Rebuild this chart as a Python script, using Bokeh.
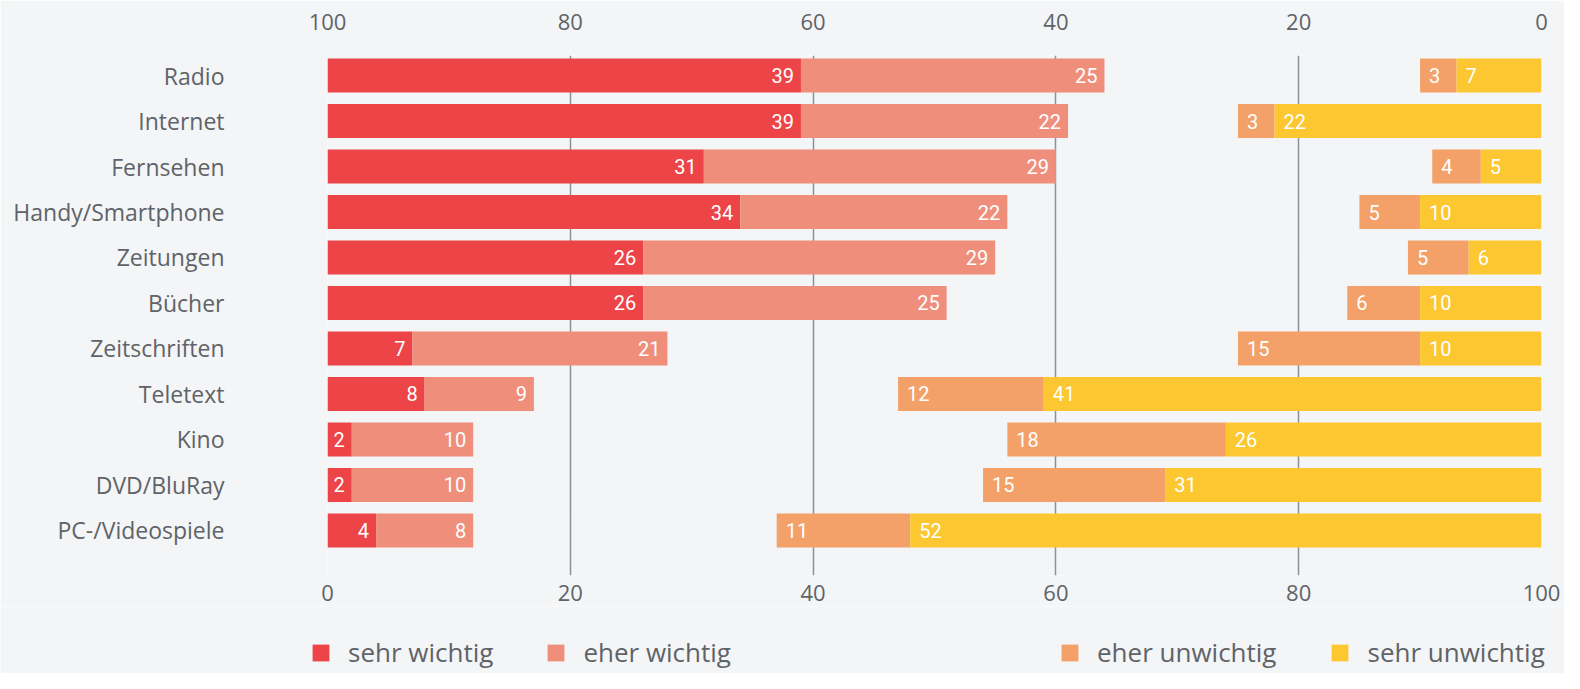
from bokeh.plotting import figure
from bokeh.layouts import column
from bokeh.models import (ColumnDataSource, Range1d, LinearAxis, FixedTicker,
                          Legend, LegendItem)
from bokeh.core.properties import value
from bokeh.embed import file_html
from bokeh.resources import INLINE

# ---- data ----
categories = ["Radio", "Internet", "Fernsehen", "Handy/Smartphone", "Zeitungen",
              "Bücher", "Zeitschriften", "Teletext", "Kino", "DVD/BluRay",
              "PC-/Videospiele"]
sehr_wichtig = [39, 39, 31, 34, 26, 26, 7, 8, 2, 2, 4]
eher_wichtig = [25, 22, 29, 22, 29, 25, 21, 9, 10, 10, 8]
eher_unwichtig = [3, 3, 4, 5, 5, 6, 15, 12, 18, 15, 11]
sehr_unwichtig = [7, 22, 5, 10, 6, 10, 10, 41, 26, 31, 52]
bottom_ticks = [0, 20, 40, 60, 80, 100]
top_tick_labels = ["100", "80", "60", "40", "20", "0"]
series_names = ["sehr wichtig", "eher wichtig", "eher unwichtig", "sehr unwichtig"]

# ---- styling ----
FONT = "Open Sans"
NUM_FONT = "Roboto"
C_SW = "#ec4447"
C_EW = "#f08e7c"
C_EU = "#f3a168"
C_SU = "#fcc731"
BG = "#f3f5f7"
TXT = "#5f6368"

n = len(categories)
ys = list(range(n))

sw_left = [0] * n
sw_right = [a for a in sehr_wichtig]
ew_left = sw_right
ew_right = [a + b for a, b in zip(sehr_wichtig, eher_wichtig)]
su_right = [100] * n
su_left = [100 - d for d in sehr_unwichtig]
eu_right = su_left
eu_left = [100 - c - d for c, d in zip(eher_unwichtig, sehr_unwichtig)]

W, H = 1564, 606
p = figure(width=W, height=H, output_backend="svg", toolbar_location=None,
           x_range=Range1d(0, 100), y_range=Range1d(10.99, -0.44),
           x_axis_location="below",
           min_border_left=327, min_border_right=W - 1541,
           min_border_top=55, min_border_bottom=H - 575)
p.background_fill_color = BG
p.border_fill_color = BG
p.outline_line_color = None

src = ColumnDataSource(dict(
    y=ys,
    sw_l=sw_left, sw_r=sw_right, ew_l=ew_left, ew_r=ew_right,
    eu_l=eu_left, eu_r=eu_right, su_l=su_left, su_r=su_right,
    sw_t=[str(v) for v in sehr_wichtig], ew_t=[str(v) for v in eher_wichtig],
    eu_t=[str(v) for v in eher_unwichtig], su_t=[str(v) for v in sehr_unwichtig],
))

bh = 0.75
p.hbar(y="y", left="sw_l", right="sw_r", height=bh, source=src,
       fill_color=C_SW, line_color=None)
p.hbar(y="y", left="ew_l", right="ew_r", height=bh, source=src,
       fill_color=C_EW, line_color=None)
p.hbar(y="y", left="eu_l", right="eu_r", height=bh, source=src,
       fill_color=C_EU, line_color=None)
p.hbar(y="y", left="su_l", right="su_r", height=bh, source=src,
       fill_color=C_SU, line_color=None)

lbl_kw = dict(y="y", source=src, text_color="white", text_font=value(NUM_FONT),
              text_font_size="20px", text_baseline="middle")
p.text(x="sw_r", text="sw_t", text_align="right", x_offset=-7, **lbl_kw)
p.text(x="ew_r", text="ew_t", text_align="right", x_offset=-7, **lbl_kw)
p.text(x="eu_l", text="eu_t", text_align="left", x_offset=9, **lbl_kw)
p.text(x="su_l", text="su_t", text_align="left", x_offset=9, **lbl_kw)

# grid
p.ygrid.grid_line_color = None
p.xgrid.ticker = FixedTicker(ticks=bottom_ticks)
p.xgrid.grid_line_color = "#8c9196"
p.xgrid.grid_line_width = 1.5

# bottom axis
xa = p.xaxis[0]
xa.ticker = FixedTicker(ticks=bottom_ticks)
xa.axis_line_color = None
xa.major_tick_line_color = None
xa.minor_tick_line_color = None
xa.major_label_standoff = 3
xa.major_label_text_font = FONT
xa.major_label_text_font_size = "22px"
xa.major_label_text_color = TXT

# top axis (reversed labels)
ta = LinearAxis(ticker=FixedTicker(ticks=bottom_ticks),
                major_label_overrides={t: l for t, l in zip(bottom_ticks, top_tick_labels)})
ta.axis_line_color = None
ta.major_tick_line_color = None
ta.minor_tick_line_color = None
ta.major_label_standoff = 20
ta.major_label_text_font = FONT
ta.major_label_text_font_size = "22px"
ta.major_label_text_color = TXT
p.add_layout(ta, "above")

# left axis with categories
ya = p.yaxis[0]
ya.ticker = FixedTicker(ticks=ys)
ya.major_label_overrides = {i: c for i, c in zip(ys, categories)}
ya.axis_line_color = None
ya.major_tick_line_color = None
ya.minor_tick_line_color = None
ya.major_label_standoff = 97
ya.major_label_text_font = FONT
ya.major_label_text_font_size = "23px"
ya.major_label_text_color = TXT

# legend strip below the chart
LH = 67
lf = figure(width=W, height=LH, output_backend="svg", toolbar_location=None,
            x_range=Range1d(0, 1), y_range=Range1d(0, 1),
            x_axis_type=None, y_axis_type=None,
            min_border_left=0, min_border_right=0, min_border_top=0, min_border_bottom=0)
lf.frame_align = False
lf.background_fill_color = BG
lf.border_fill_color = BG
lf.outline_line_color = None
lf.grid.grid_line_color = None
colors = [C_SW, C_EW, C_EU, C_SU]
# zero-width proxy bars: they only provide the legend swatches
rends = [lf.hbar(y=[0.5], left=[0], right=[0], height=0.0, fill_color=c, line_color=None)
         for c in colors]

leg_kw = dict(orientation="horizontal", background_fill_alpha=0, border_line_color=None,
              glyph_width=21, glyph_height=21, label_standoff=17, padding=0, margin=0,
              label_text_font=FONT, label_text_font_size="26px", label_text_color=TXT)
leg1 = Legend(items=[LegendItem(label=series_names[0], renderers=[rends[0]]),
                     LegendItem(label=series_names[1], renderers=[rends[1]])],
              location=(310, 3), spacing=52, **leg_kw)
leg2 = Legend(items=[LegendItem(label=series_names[2], renderers=[rends[2]]),
                     LegendItem(label=series_names[3], renderers=[rends[3]])],
              location=(1059, 3), spacing=53, **leg_kw)
lf.add_layout(leg1, "center")
lf.add_layout(leg2, "center")

page = column(p, lf, spacing=0)
open("out.html", "w").write(file_html(page, INLINE))
